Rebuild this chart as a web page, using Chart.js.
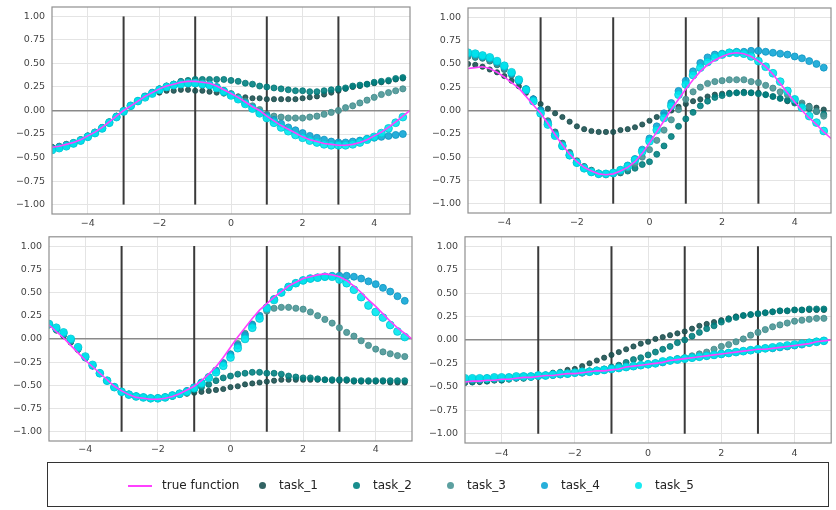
<!DOCTYPE html>
<html>
<head>
<meta charset="utf-8">
<script src="https://cdn.jsdelivr.net/npm/chart.js@4.4.1/dist/chart.umd.min.js"></script>
<style>
  body { margin: 0; background: #fff; width: 836px; height: 510px; position: relative; overflow: hidden; font-family: "DejaVu Sans", sans-serif; }
  canvas { position: absolute; }
  #legend { position: absolute; left: 47px; top: 462px; width: 782px; height: 45px; border: 1px solid #333; box-sizing: border-box; }
  .item { position: absolute; top: 14px; font-size: 12px; color: #222; line-height: 16px; }
  .swatch-line { position: absolute; top: 22px; width: 24px; height: 2px; background: #ff40ff; }
  .swatch-dot { position: absolute; top: 19px; width: 7px; height: 7px; border-radius: 50%; }
</style>
</head>
<body>
<canvas id="c1" width="418" height="232" style="left:0;top:0"></canvas>
<canvas id="c2" width="418" height="232" style="left:418px;top:0"></canvas>
<canvas id="c3" width="418" height="232" style="left:0;top:232px"></canvas>
<canvas id="c4" width="418" height="232" style="left:418px;top:232px"></canvas>
<div id="legend"></div>
<script>
// x positions of the samples (points use the first 50, the true function all 51)
const xs = [-5,-4.8,-4.6,-4.4,-4.2,-4,-3.8,-3.6,-3.4,-3.2,-3,-2.8,-2.6,-2.4,-2.2,-2,-1.8,-1.6,-1.4,-1.2,-1,-0.8,-0.6,-0.4,-0.2,0,0.2,0.4,0.6,0.8,1,1.2,1.4,1.6,1.8,2,2.2,2.4,2.6,2.8,3,3.2,3.4,3.6,3.8,4,4.2,4.4,4.6,4.8,5];
const xTicks = [-4, -2, 0, 2, 4];
const yTicks = [-1, -0.75, -0.5, -0.25, 0, 0.25, 0.5, 0.75, 1];
const boundaries = [-3, -1, 1, 3];
const boundaryRange = [-1, 1];
const taskNames = ['task_1', 'task_2', 'task_3', 'task_4', 'task_5'];

// top left
const s1True = [-0.39,-0.38,-0.36,-0.34,-0.31,-0.27,-0.23,-0.18,-0.12,-0.06,0.00,0.05,0.10,0.15,0.19,0.23,0.26,0.28,0.30,0.31,0.31,0.30,0.29,0.26,0.22,0.18,0.14,0.09,0.04,0.00,-0.06,-0.11,-0.16,-0.20,-0.24,-0.28,-0.31,-0.33,-0.35,-0.36,-0.37,-0.37,-0.36,-0.34,-0.31,-0.27,-0.23,-0.18,-0.12,-0.06,0.00];
const s1T1 = [-0.39,-0.38,-0.36,-0.34,-0.31,-0.27,-0.23,-0.18,-0.12,-0.06,0.00,0.05,0.10,0.15,0.18,0.19,0.21,0.21,0.22,0.22,0.21,0.21,0.20,0.19,0.18,0.17,0.15,0.14,0.13,0.13,0.12,0.12,0.12,0.12,0.12,0.13,0.14,0.15,0.17,0.19,0.21,0.23,0.25,0.26,0.28,0.29,0.30,0.31,0.33,0.34];
const s1T2 = [-0.39,-0.38,-0.36,-0.34,-0.31,-0.27,-0.23,-0.18,-0.12,-0.06,0.00,0.05,0.10,0.15,0.19,0.23,0.26,0.28,0.31,0.32,0.33,0.33,0.33,0.33,0.33,0.32,0.31,0.29,0.28,0.26,0.25,0.24,0.23,0.22,0.21,0.21,0.20,0.20,0.21,0.22,0.23,0.24,0.26,0.27,0.28,0.30,0.31,0.32,0.34,0.35];
const s1T3 = [-0.40,-0.38,-0.36,-0.34,-0.31,-0.27,-0.23,-0.18,-0.12,-0.06,0.00,0.05,0.10,0.15,0.19,0.23,0.26,0.28,0.30,0.30,0.30,0.29,0.28,0.25,0.21,0.18,0.14,0.10,0.05,0.01,-0.04,-0.06,-0.07,-0.08,-0.08,-0.08,-0.07,-0.06,-0.04,-0.02,0.00,0.03,0.05,0.08,0.11,0.14,0.17,0.19,0.21,0.23];
const s1T4 = [-0.41,-0.39,-0.37,-0.35,-0.32,-0.28,-0.24,-0.19,-0.13,-0.07,-0.01,0.05,0.10,0.15,0.19,0.22,0.25,0.27,0.29,0.29,0.29,0.28,0.27,0.25,0.21,0.17,0.13,0.08,0.03,-0.02,-0.06,-0.10,-0.14,-0.18,-0.21,-0.24,-0.27,-0.29,-0.31,-0.33,-0.34,-0.34,-0.33,-0.32,-0.30,-0.29,-0.28,-0.27,-0.26,-0.25];
const s1T5 = [-0.42,-0.40,-0.38,-0.35,-0.32,-0.28,-0.24,-0.19,-0.13,-0.07,-0.01,0.05,0.10,0.14,0.18,0.22,0.25,0.27,0.28,0.29,0.29,0.28,0.27,0.24,0.20,0.16,0.12,0.07,0.02,-0.03,-0.08,-0.13,-0.18,-0.22,-0.26,-0.29,-0.32,-0.34,-0.36,-0.37,-0.37,-0.37,-0.36,-0.34,-0.31,-0.28,-0.24,-0.19,-0.13,-0.07];

// top right
const s2True = [0.45,0.46,0.47,0.45,0.41,0.36,0.30,0.24,0.15,0.06,-0.03,-0.14,-0.26,-0.37,-0.47,-0.55,-0.61,-0.65,-0.68,-0.69,-0.68,-0.65,-0.61,-0.55,-0.46,-0.35,-0.23,-0.11,0.01,0.12,0.23,0.33,0.42,0.49,0.54,0.58,0.61,0.62,0.61,0.58,0.53,0.47,0.39,0.29,0.19,0.09,0.00,-0.08,-0.15,-0.23,-0.30];
const s2T1 = [0.50,0.49,0.47,0.44,0.41,0.37,0.32,0.26,0.19,0.13,0.07,0.02,-0.03,-0.07,-0.12,-0.17,-0.20,-0.22,-0.23,-0.23,-0.23,-0.21,-0.20,-0.18,-0.15,-0.11,-0.07,-0.04,0.00,0.04,0.07,0.10,0.12,0.15,0.17,0.18,0.19,0.19,0.20,0.19,0.19,0.17,0.15,0.13,0.10,0.09,0.07,0.05,0.03,0.01];
const s2T2 = [0.58,0.57,0.56,0.53,0.49,0.44,0.38,0.31,0.22,0.12,0.01,-0.11,-0.23,-0.35,-0.45,-0.54,-0.60,-0.64,-0.67,-0.68,-0.68,-0.67,-0.65,-0.62,-0.58,-0.55,-0.47,-0.38,-0.28,-0.17,-0.09,-0.02,0.05,0.10,0.14,0.16,0.18,0.19,0.19,0.19,0.18,0.17,0.15,0.13,0.11,0.08,0.05,0.02,-0.01,-0.04];
const s2T3 = [0.59,0.58,0.57,0.54,0.50,0.45,0.39,0.32,0.23,0.12,0.00,-0.12,-0.25,-0.36,-0.46,-0.55,-0.61,-0.65,-0.68,-0.69,-0.68,-0.66,-0.62,-0.57,-0.50,-0.42,-0.32,-0.21,-0.10,0.01,0.12,0.20,0.25,0.29,0.31,0.32,0.33,0.33,0.33,0.31,0.30,0.27,0.24,0.20,0.17,0.12,0.08,0.04,-0.01,-0.06];
const s2T4 = [0.61,0.60,0.58,0.56,0.52,0.47,0.40,0.32,0.23,0.12,0.00,-0.13,-0.26,-0.38,-0.48,-0.56,-0.62,-0.66,-0.68,-0.68,-0.67,-0.64,-0.59,-0.52,-0.42,-0.30,-0.17,-0.03,0.08,0.21,0.32,0.42,0.51,0.57,0.60,0.61,0.62,0.63,0.63,0.64,0.64,0.63,0.62,0.61,0.60,0.58,0.56,0.53,0.50,0.46];
const s2T5 = [0.62,0.61,0.59,0.57,0.53,0.48,0.41,0.33,0.22,0.10,-0.03,-0.15,-0.27,-0.38,-0.48,-0.56,-0.62,-0.66,-0.68,-0.68,-0.67,-0.64,-0.60,-0.53,-0.44,-0.33,-0.21,-0.08,0.05,0.17,0.28,0.38,0.46,0.52,0.57,0.60,0.62,0.62,0.61,0.58,0.53,0.47,0.40,0.31,0.21,0.12,0.03,-0.06,-0.13,-0.22];

// bottom left
const s3True = [0.15,0.08,0.01,-0.07,-0.15,-0.23,-0.30,-0.37,-0.44,-0.51,-0.56,-0.60,-0.63,-0.64,-0.65,-0.65,-0.64,-0.62,-0.59,-0.55,-0.51,-0.45,-0.38,-0.30,-0.20,-0.09,0.02,0.12,0.22,0.31,0.38,0.45,0.51,0.57,0.61,0.65,0.67,0.69,0.70,0.69,0.67,0.63,0.57,0.50,0.42,0.35,0.27,0.19,0.12,0.06,0.00];
const s3T1 = [0.15,0.09,0.03,-0.04,-0.12,-0.21,-0.29,-0.37,-0.45,-0.51,-0.56,-0.59,-0.61,-0.63,-0.64,-0.63,-0.62,-0.61,-0.60,-0.59,-0.58,-0.57,-0.56,-0.55,-0.54,-0.52,-0.51,-0.49,-0.48,-0.47,-0.46,-0.45,-0.44,-0.44,-0.44,-0.44,-0.44,-0.44,-0.44,-0.45,-0.45,-0.45,-0.46,-0.46,-0.46,-0.46,-0.46,-0.47,-0.47,-0.47];
const s3T2 = [0.15,0.10,0.04,-0.03,-0.11,-0.20,-0.29,-0.37,-0.45,-0.52,-0.57,-0.60,-0.62,-0.63,-0.64,-0.64,-0.63,-0.62,-0.60,-0.58,-0.55,-0.52,-0.49,-0.45,-0.42,-0.40,-0.38,-0.37,-0.36,-0.36,-0.37,-0.37,-0.38,-0.40,-0.41,-0.42,-0.42,-0.43,-0.44,-0.44,-0.44,-0.44,-0.45,-0.45,-0.45,-0.45,-0.45,-0.45,-0.45,-0.45];
const s3T3 = [0.15,0.10,0.05,-0.02,-0.11,-0.20,-0.29,-0.37,-0.45,-0.52,-0.57,-0.60,-0.62,-0.63,-0.64,-0.64,-0.63,-0.61,-0.59,-0.56,-0.52,-0.47,-0.41,-0.34,-0.26,-0.16,-0.05,0.06,0.16,0.24,0.30,0.33,0.34,0.34,0.33,0.32,0.29,0.25,0.21,0.17,0.12,0.07,0.03,-0.02,-0.07,-0.11,-0.14,-0.16,-0.18,-0.19];
const s3T4 = [0.16,0.11,0.06,-0.01,-0.10,-0.20,-0.29,-0.37,-0.45,-0.52,-0.57,-0.60,-0.62,-0.63,-0.64,-0.64,-0.63,-0.61,-0.59,-0.56,-0.52,-0.47,-0.41,-0.34,-0.26,-0.17,-0.07,0.04,0.15,0.25,0.34,0.43,0.50,0.56,0.60,0.63,0.65,0.66,0.67,0.68,0.68,0.68,0.67,0.65,0.62,0.59,0.55,0.51,0.46,0.41];
const s3T5 = [0.16,0.12,0.07,0.00,-0.09,-0.19,-0.28,-0.37,-0.45,-0.52,-0.57,-0.60,-0.62,-0.63,-0.64,-0.64,-0.63,-0.61,-0.59,-0.57,-0.53,-0.48,-0.42,-0.36,-0.29,-0.20,-0.10,0.00,0.12,0.22,0.33,0.42,0.50,0.56,0.60,0.63,0.65,0.66,0.67,0.67,0.64,0.60,0.53,0.45,0.36,0.29,0.23,0.15,0.08,0.02];

// bottom right
const s4True = [-0.45,-0.44,-0.44,-0.43,-0.43,-0.42,-0.42,-0.41,-0.40,-0.40,-0.39,-0.38,-0.38,-0.37,-0.36,-0.36,-0.35,-0.34,-0.33,-0.33,-0.32,-0.31,-0.29,-0.28,-0.27,-0.26,-0.25,-0.24,-0.22,-0.21,-0.20,-0.19,-0.18,-0.17,-0.16,-0.15,-0.14,-0.13,-0.12,-0.11,-0.10,-0.10,-0.09,-0.08,-0.07,-0.06,-0.05,-0.04,-0.02,-0.01,0.00];
const s4T1 = [-0.46,-0.45,-0.45,-0.44,-0.43,-0.43,-0.42,-0.41,-0.41,-0.40,-0.39,-0.37,-0.35,-0.34,-0.32,-0.31,-0.28,-0.25,-0.22,-0.19,-0.16,-0.13,-0.10,-0.07,-0.04,-0.02,0.01,0.03,0.05,0.07,0.09,0.12,0.15,0.17,0.19,0.21,0.23,0.25,0.26,0.27,0.28,0.29,0.30,0.31,0.31,0.32,0.32,0.32,0.32,0.32];
const s4T2 = [-0.45,-0.45,-0.44,-0.44,-0.43,-0.43,-0.42,-0.41,-0.41,-0.40,-0.39,-0.38,-0.38,-0.37,-0.36,-0.35,-0.34,-0.33,-0.32,-0.31,-0.29,-0.27,-0.24,-0.21,-0.19,-0.16,-0.13,-0.10,-0.07,-0.03,0.00,0.04,0.08,0.12,0.15,0.19,0.22,0.24,0.26,0.27,0.28,0.29,0.30,0.31,0.31,0.32,0.32,0.33,0.33,0.33];
const s4T3 = [-0.44,-0.43,-0.43,-0.42,-0.42,-0.41,-0.41,-0.40,-0.40,-0.39,-0.39,-0.38,-0.37,-0.37,-0.36,-0.35,-0.35,-0.34,-0.33,-0.32,-0.31,-0.30,-0.29,-0.28,-0.27,-0.26,-0.25,-0.23,-0.22,-0.20,-0.19,-0.17,-0.15,-0.13,-0.10,-0.07,-0.05,-0.02,0.01,0.05,0.08,0.11,0.14,0.16,0.18,0.20,0.21,0.22,0.23,0.23];
const s4T4 = [-0.42,-0.42,-0.42,-0.41,-0.41,-0.41,-0.40,-0.40,-0.39,-0.39,-0.38,-0.38,-0.37,-0.37,-0.36,-0.35,-0.35,-0.34,-0.33,-0.32,-0.31,-0.30,-0.29,-0.28,-0.27,-0.26,-0.25,-0.24,-0.22,-0.21,-0.20,-0.19,-0.18,-0.17,-0.16,-0.15,-0.14,-0.13,-0.12,-0.11,-0.10,-0.09,-0.09,-0.08,-0.07,-0.06,-0.05,-0.03,-0.02,-0.01];
const s4T5 = [-0.41,-0.41,-0.41,-0.41,-0.40,-0.40,-0.40,-0.39,-0.39,-0.39,-0.38,-0.38,-0.37,-0.36,-0.36,-0.35,-0.34,-0.34,-0.33,-0.32,-0.31,-0.30,-0.29,-0.28,-0.27,-0.26,-0.25,-0.23,-0.22,-0.21,-0.20,-0.19,-0.18,-0.17,-0.16,-0.15,-0.14,-0.13,-0.12,-0.11,-0.10,-0.09,-0.08,-0.07,-0.06,-0.05,-0.04,-0.03,-0.02,-0.01];

// styles
const taskColors = ['rgba(28,82,82,0.9)', 'rgba(0,130,130,0.9)', 'rgba(74,150,150,0.9)', 'rgba(16,166,214,0.9)', 'rgba(0,232,240,0.9)'];
const taskEdges = ['#1a4a4a', '#007474', '#408a8a', '#0c94c0', '#00c4d2'];
const taskRadius = [2.6, 3, 3.1, 3.5, 3.9];
const trueColor = '#ff40ff';

const fmt = v => (Math.abs(v) < 1e-9 ? 0 : v).toString().replace('-', '\u2212');
const fmtY = v => (Math.abs(v) < 1e-9 ? 0 : v).toFixed(2).replace('-', '\u2212');

const framePlugin = {
  id: 'frame',
  afterDatasetsDraw(chart) {
    const a = chart.chartArea, c = chart.ctx;
    c.save();
    c.strokeStyle = '#8f8f8f';
    c.lineWidth = 1.2;
    c.strokeRect(a.left, a.top, a.right - a.left, a.bottom - a.top);
    c.restore();
  }
};

function makeChart(id, trueVals, tasks, box) {
  const datasets = [];
  boundaries.forEach(b => {
    datasets.push({
      type: 'line',
      data: boundaryRange.map(y => ({ x: b, y: y })),
      borderColor: '#3a3a3a',
      borderWidth: 2,
      pointRadius: 0,
      order: 10
    });
  });
  tasks.forEach((vals, k) => {
    datasets.push({
      type: 'scatter',
      label: taskNames[k],
      data: vals.map((y, i) => ({ x: xs[i], y: y })),
      backgroundColor: taskColors[k],
      borderColor: taskEdges[k],
      borderWidth: 0.8,
      pointRadius: taskRadius[k],
      order: 9 - k
    });
  });
  datasets.push({
    type: 'line',
    label: 'true function',
    data: trueVals.map((y, i) => ({ x: xs[i], y: y })),
    borderColor: trueColor,
    borderWidth: 1.6,
    pointRadius: 0,
    order: 0
  });

  new Chart(document.getElementById(id), {
    type: 'scatter',
    data: { datasets },
    plugins: [framePlugin],
    options: {
      responsive: false,
      animation: false,
      layout: { padding: { left: 0, right: box.right, top: box.top, bottom: 0 } },
      plugins: { legend: { display: false }, tooltip: { enabled: false } },
      scales: {
        x: {
          type: 'linear', min: -5, max: 5,
          afterBuildTicks: s => { s.ticks = xTicks.map(v => ({ value: v })); },
          afterFit: s => { s.height = box.xh; s.paddingLeft = 0; s.paddingRight = 0; },
          grid: { color: '#e4e4e4', lineWidth: 1, drawTicks: false },
          border: { display: false },
          ticks: { callback: v => fmt(v), color: '#444', padding: box.xpad, maxRotation: 0,
                   font: { family: 'DejaVu Sans', size: 9.5 } }
        },
        y: {
          type: 'linear', min: -1.1, max: 1.1,
          afterBuildTicks: s => { s.ticks = yTicks.map(v => ({ value: v })); },
          afterFit: s => { s.width = box.yw; s.paddingTop = 0; s.paddingBottom = 0; },
          grid: {
            drawTicks: false,
            color: c => (c.tick && c.tick.value === 0 ? '#8a8a8a' : '#e4e4e4'),
            lineWidth: c => (c.tick && c.tick.value === 0 ? 1.6 : 1)
          },
          border: { display: false },
          ticks: { callback: v => fmtY(v), color: '#444', padding: 7,
                   font: { family: 'DejaVu Sans', size: 9.5 } }
        }
      }
    }
  });
}

makeChart('c1', s1True, [s1T1, s1T2, s1T3, s1T4, s1T5], { yw: 52, right: 8, top: 7, xh: 18, xpad: 4 });
makeChart('c2', s2True, [s2T1, s2T2, s2T3, s2T4, s2T5], { yw: 50, right: 5, top: 8, xh: 19, xpad: 4 });
makeChart('c3', s3True, [s3T1, s3T2, s3T3, s3T4, s3T5], { yw: 49, right: 6, top: 3, xh: 23, xpad: 3 });
makeChart('c4', s4True, [s4T1, s4T2, s4T3, s4T4, s4T5], { yw: 47, right: 4, top: 3, xh: 21, xpad: 5 });

// legend below the panels
const legend = document.getElementById('legend');
const line = document.createElement('div');
line.className = 'swatch-line';
line.style.left = '80px';
legend.appendChild(line);
const lt = document.createElement('div');
lt.className = 'item';
lt.style.left = '114px';
lt.textContent = 'true function';
legend.appendChild(lt);
taskNames.forEach((name, k) => {
  const d = document.createElement('div');
  d.className = 'swatch-dot';
  d.style.left = (211 + 94 * k) + 'px';
  d.style.background = taskColors[k];
  legend.appendChild(d);
  const t = document.createElement('div');
  t.className = 'item';
  t.style.left = (231 + 94 * k) + 'px';
  t.textContent = name;
  legend.appendChild(t);
});
</script>
</body>
</html>
